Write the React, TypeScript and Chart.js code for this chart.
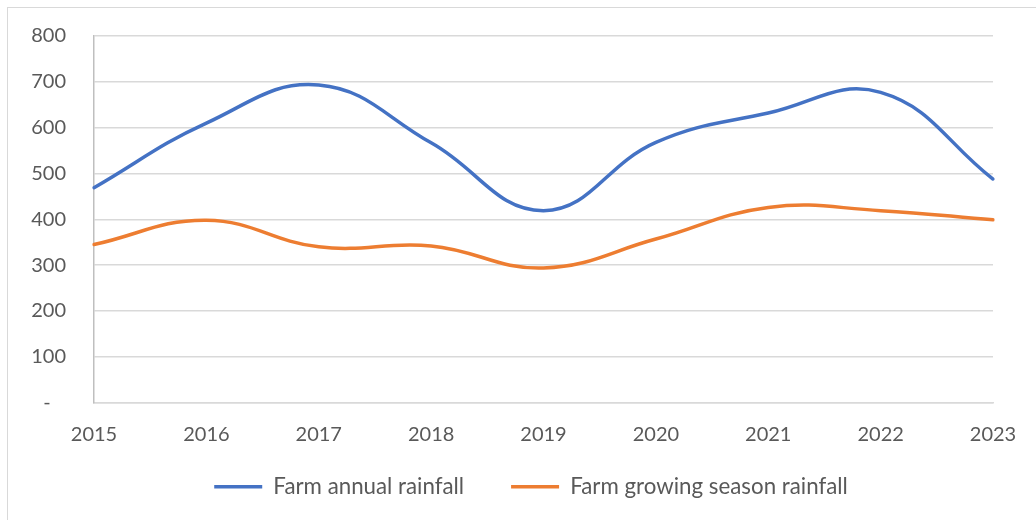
import React, { useEffect, useRef } from "react";
import { Chart, registerables } from "chart.js";

Chart.register(...registerables);

const years = ["2015", "2016", "2017", "2018", "2019", "2020", "2021", "2022", "2023"];
const annualRainfall = [469, 610, 693, 567, 419, 568, 632, 677, 488];
const growingSeasonRainfall = [345, 398, 340, 342, 294, 357, 426, 419, 399];
const seriesNames = ["Farm annual rainfall", "Farm growing season rainfall"];
const yTicks = { min: 0, max: 800, step: 100 };

const FONT = "Lato, 'Open Sans', sans-serif";
const TEXT = "#595959";

export default function App() {
  const ref = useRef<HTMLCanvasElement>(null);

  useEffect(() => {
    if (!ref.current) return;
    const chart = new Chart(ref.current, {
      type: "line",
      data: {
        labels: years,
        datasets: [
          {
            label: seriesNames[0],
            data: annualRainfall,
            borderColor: "#4472C4",
            backgroundColor: "#4472C4",
            borderWidth: 3.5,
            pointRadius: 0,
            tension: 0.42,
            borderCapStyle: "round",
          },
          {
            label: seriesNames[1],
            data: growingSeasonRainfall,
            borderColor: "#ED7D31",
            backgroundColor: "#ED7D31",
            borderWidth: 3.5,
            pointRadius: 0,
            tension: 0.42,
            borderCapStyle: "round",
          },
        ],
      },
      options: {
        responsive: false,
        animation: false,
        layout: { padding: { top: 36, right: 0, left: 26, bottom: 12 } },
        plugins: {
          tooltip: { enabled: false },
          legend: {
            position: "bottom",
            labels: {
              usePointStyle: true,
              pointStyle: "line",
              pointStyleWidth: 48,
              padding: 47,
              color: TEXT,
              font: { family: FONT, size: 22.3 },
            },
          },
        },
        scales: {
          x: {
            offset: false,
            grid: { display: false, drawTicks: false },
            border: { display: true, color: "#d9d9d9", width: 1.5 },
            ticks: {
              color: TEXT,
              font: { family: FONT, size: 20 },
              mirror: true,
              padding: -44,
              maxRotation: 0,
              autoSkip: false,
            },
            afterFit: (s: any) => {
              s.height = 26;
            },
          },
          y: {
            min: yTicks.min,
            max: yTicks.max,
            grid: { color: "#d9d9d9", lineWidth: 1.5, drawTicks: false },
            border: { display: true, color: "#bfbfbf", width: 1.5 },
            ticks: {
              stepSize: yTicks.step,
              color: TEXT,
              font: { family: FONT, size: 20 },
              padding: 28,
              callback: (v: any) => (Number(v) === 0 ? "-   " : String(v)),
            },
            afterFit: (s: any) => {
              s.width = 68;
              s.paddingTop = 12;
              s.paddingBottom = 12;
            },
          },
          yRight: {
            position: "right",
            display: true,
            grid: { display: false, drawTicks: false },
            border: { display: false },
            ticks: { display: false },
            afterFit: (s: any) => {
              s.width = 43;
            },
          },
        },
      },
    });
    return () => chart.destroy();
  }, []);

  return (
    <div
      style={{
        position: "fixed",
        left: 0,
        top: 0,
        width: 1036,
        height: 520,
        overflow: "hidden",
        background: "#fff",
      }}
    >
      <div
        style={{
          position: "absolute",
          left: 7,
          top: 7,
          width: 1060,
          height: 560,
          border: "1px solid #d9d9d9",
          boxSizing: "border-box",
        }}
      />
      <canvas
        ref={ref}
        width={1036}
        height={520}
        style={{ position: "absolute", left: 0, top: 0 }}
      />
    </div>
  );
}
